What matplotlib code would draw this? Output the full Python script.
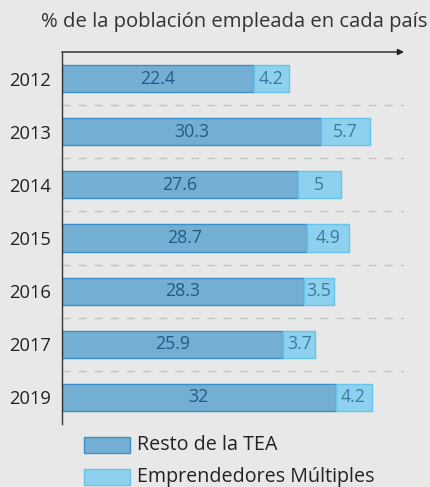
import matplotlib
matplotlib.use("Agg")
import matplotlib.pyplot as plt
from matplotlib.patches import Rectangle

years = ["2012", "2013", "2014", "2015", "2016", "2017", "2019"]
resto = [22.4, 30.3, 27.6, 28.7, 28.3, 25.9, 32]
multiples = [4.2, 5.7, 5, 4.9, 3.5, 3.7, 4.2]
series_names = ["Resto de la TEA", "Emprendedores Múltiples"]
title = "% de la población empleada en cada país"

plt.rcParams['font.family'] = ['Open Sans', 'DejaVu Sans']
bg = "#e8e8e8"
dark_fill, dark_edge, dark_text = "#74afd3", "#3d8fc9", "#235a84"
light_fill, light_edge, light_text = "#8ed1ee", "#66c4ec", "#3a7aa0"

W, H = 431, 487
fig = plt.figure(figsize=(W/100, H/100), dpi=100, facecolor=bg)
ax = fig.add_axes([62/W, (H-424)/H, 342/W, 372/H], facecolor=bg)

ypos = list(range(len(years)))
ax.barh(ypos, resto, height=0.51, color=dark_fill, edgecolor=dark_edge, linewidth=1)
ax.barh(ypos, multiples, left=resto, height=0.51, color=light_fill, edgecolor=light_edge, linewidth=1)

for i in ypos:
    ax.text(resto[i]/2, i, f"{resto[i]:g}", ha="center", va="center", fontsize=12.8, color=dark_text)
    ax.text(resto[i] + multiples[i]/2, i, f"{multiples[i]:g}", ha="center", va="center", fontsize=12.8, color=light_text)

for i in range(len(years)-1):
    ax.axhline(i + 0.5, color="#c4c4c4", lw=1, dashes=(5.8, 5.8))

ax.set_xlim(0, 40)
ax.set_ylim(len(years) - 0.5, -0.5)
ax.set_yticks(ypos)
ax.set_yticklabels(years, fontsize=13.2, color="#222222")
ax.set_xticks([])
ax.tick_params(axis="y", length=0, pad=8)
for s in ["right", "bottom", "top"]:
    ax.spines[s].set_visible(False)
ax.spines["left"].set_color("#333333")
ax.spines["left"].set_linewidth(1)

ax.annotate("", xy=(1.0, 1.0), xytext=(0, 1.0), xycoords="axes fraction",
            arrowprops=dict(arrowstyle="-|>", color="#222222", lw=1, mutation_scale=9, shrinkA=0, shrinkB=0))

fig.text(428/W, 1 - 22/H, title, ha="right", va="center", fontsize=14.6, color="#333333")

# legend
leg = [(dark_fill, dark_edge), (light_fill, light_edge)]
for k, (name, (fc, ec)) in enumerate(zip(series_names, leg)):
    yc = 445 + 32*k
    fig.add_artist(Rectangle((84/W, 1 - (yc+8)/H), 46/W, 16/H, transform=fig.transFigure,
                             facecolor=fc, edgecolor=ec, linewidth=1))
    fig.text(137/W, 1 - yc/H, name, ha="left", va="center", fontsize=14.2, color="#222222")

fig.savefig("out.png", dpi=100, facecolor=bg)
